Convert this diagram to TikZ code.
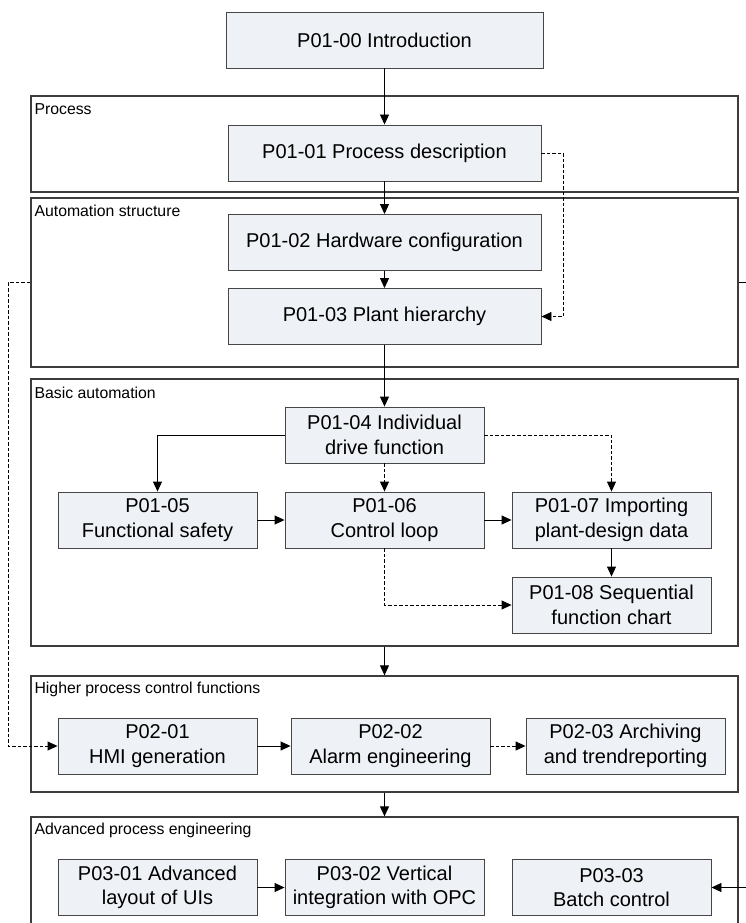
\documentclass[tikz,border=0pt]{standalone}
\usepackage{fontspec}
\setmainfont{Liberation Sans}
\usetikzlibrary{arrows.meta}
\definecolor{boxfill}{RGB}{238,241,245}
\definecolor{boxline}{RGB}{70,70,70}
\definecolor{panelline}{RGB}{60,60,60}
\tikzset{
  stepbox/.style={draw=boxline, fill=boxfill, line width=0.9pt, minimum width=199pt, minimum height=56pt,
    inner sep=0pt, align=center, font=\fontsize{20}{24.5}\selectfont},
  widebox/.style={stepbox, minimum width=313pt},
  panel/.style={draw=panelline, line width=1.3pt, minimum width=707pt, inner sep=0pt},
  lbl/.style={anchor=west, inner sep=0pt, font=\fontsize{15.8}{18}\selectfont},
  conn/.style={line width=0.9pt, -{Triangle[length=10pt,width=9pt]}},
  dconn/.style={conn, dash pattern=on 3.5pt off 2pt},
  plain/.style={line width=0.9pt}
}
\begin{document}
\begin{tikzpicture}[x=1pt,y=-1pt]
\useasboundingbox (0,0) rectangle (746,923);
\clip (0,0) rectangle (746,923);
% panels
\node[panel, minimum height=96pt] (proc) at (384.5,144) {};
\node[panel, minimum height=169pt] (auto) at (384.5,282.5) {};
\node[panel, minimum height=267pt] (basic) at (384.5,512.5) {};
\node[panel, minimum height=116pt] (higher) at (384.5,734) {};
\node[panel, minimum height=140pt] (adv) at (384.5,887) {};
\node[lbl] (lproc) at ([xshift=4pt,yshift=-14pt]proc.north west) {Process};
\node[lbl] (lauto) at ([xshift=4pt,yshift=-14pt]auto.north west) {Automation structure};
\node[lbl] (lbasic) at ([xshift=4pt,yshift=-14pt]basic.north west) {Basic automation};
\node[lbl] (lhigher) at ([xshift=4pt,yshift=-14pt]higher.north west) {Higher process control functions};
\node[lbl] (ladv) at ([xshift=4pt,yshift=-14pt]adv.north west) {Advanced process engineering};
% connectors behind boxes
\draw[conn] (basic.south) -- (higher.north);
\draw[conn] (higher.south) -- (adv.north);
\coordinate (rstub) at (746,282.5);
\draw[plain] (auto.east) -- (rstub);
% boxes
\node[widebox, minimum width=317pt] (intro) at (384.5,40) {P01-00 Introduction};
\node[widebox] (p0101) at (384.5,153) {P01-01 Process description};
\node[widebox] (p0102) at (384.5,242.5) {P01-02 Hardware configuration};
\node[widebox] (p0103) at (384.5,316.5) {P01-03 Plant hierarchy};
\node[stepbox] (p0104) at (384.5,435) {P01-04 Individual\\drive function};
\node[stepbox] (p0105) at (157.5,520) {P01-05\\Functional safety};
\node[stepbox] (p0106) at (384.5,520) {P01-06\\Control loop};
\node[stepbox] (p0107) at (611.5,520) {P01-07 Importing\\plant-design data};
\node[stepbox] (p0108) at (611.5,605) {P01-08 Sequential\\function chart};
\node[stepbox] (p0201) at (157.5,746) {P02-01\\HMI generation};
\node[stepbox] (p0202) at (390.5,746) {P02-02\\Alarm engineering};
\node[stepbox] (p0203) at (625.5,746) {P02-03 Archiving\\and trendreporting};
\node[stepbox] (p0301) at (157.5,887.5) {P03-01 Advanced\\layout of UIs};
\node[stepbox] (p0302) at (384.5,887.5) {P03-02 Vertical\\integration with OPC};
\node[stepbox] (p0303) at (611.5,887.5) {P03-03\\Batch control};
% connectors
\draw[conn] (intro.south) -- (p0101.north);
\draw[conn] (p0101.south) -- (p0102.north);
\draw[conn] (p0102.south) -- (p0103.north);
\draw[conn] (p0103.south) -- (p0104.north);
\draw[dconn] (p0101.east) -- ++(22,0) |- (p0103.east);
\draw[conn] (p0104.west) -| (p0105.north);
\draw[dconn] (p0104.south) -- (p0106.north);
\draw[dconn] (p0104.east) -| (p0107.north);
\draw[conn] (p0105.east) -- (p0106.west);
\draw[conn] (p0106.east) -- (p0107.west);
\draw[conn] (p0107.south) -- (p0108.north);
\draw[dconn] (p0106.south) |- (p0108.west);
\draw[dconn] (auto.west) -- ++(-22,0) |- (p0201.west);
\draw[conn] (p0201.east) -- (p0202.west);
\draw[dconn] (p0202.east) -- (p0203.west);
\draw[conn] (p0301.east) -- (p0302.west);
\coordinate (rin) at (746,887.5);
\draw[conn] (rin) -- (p0303.east);
\end{tikzpicture}
\end{document}
